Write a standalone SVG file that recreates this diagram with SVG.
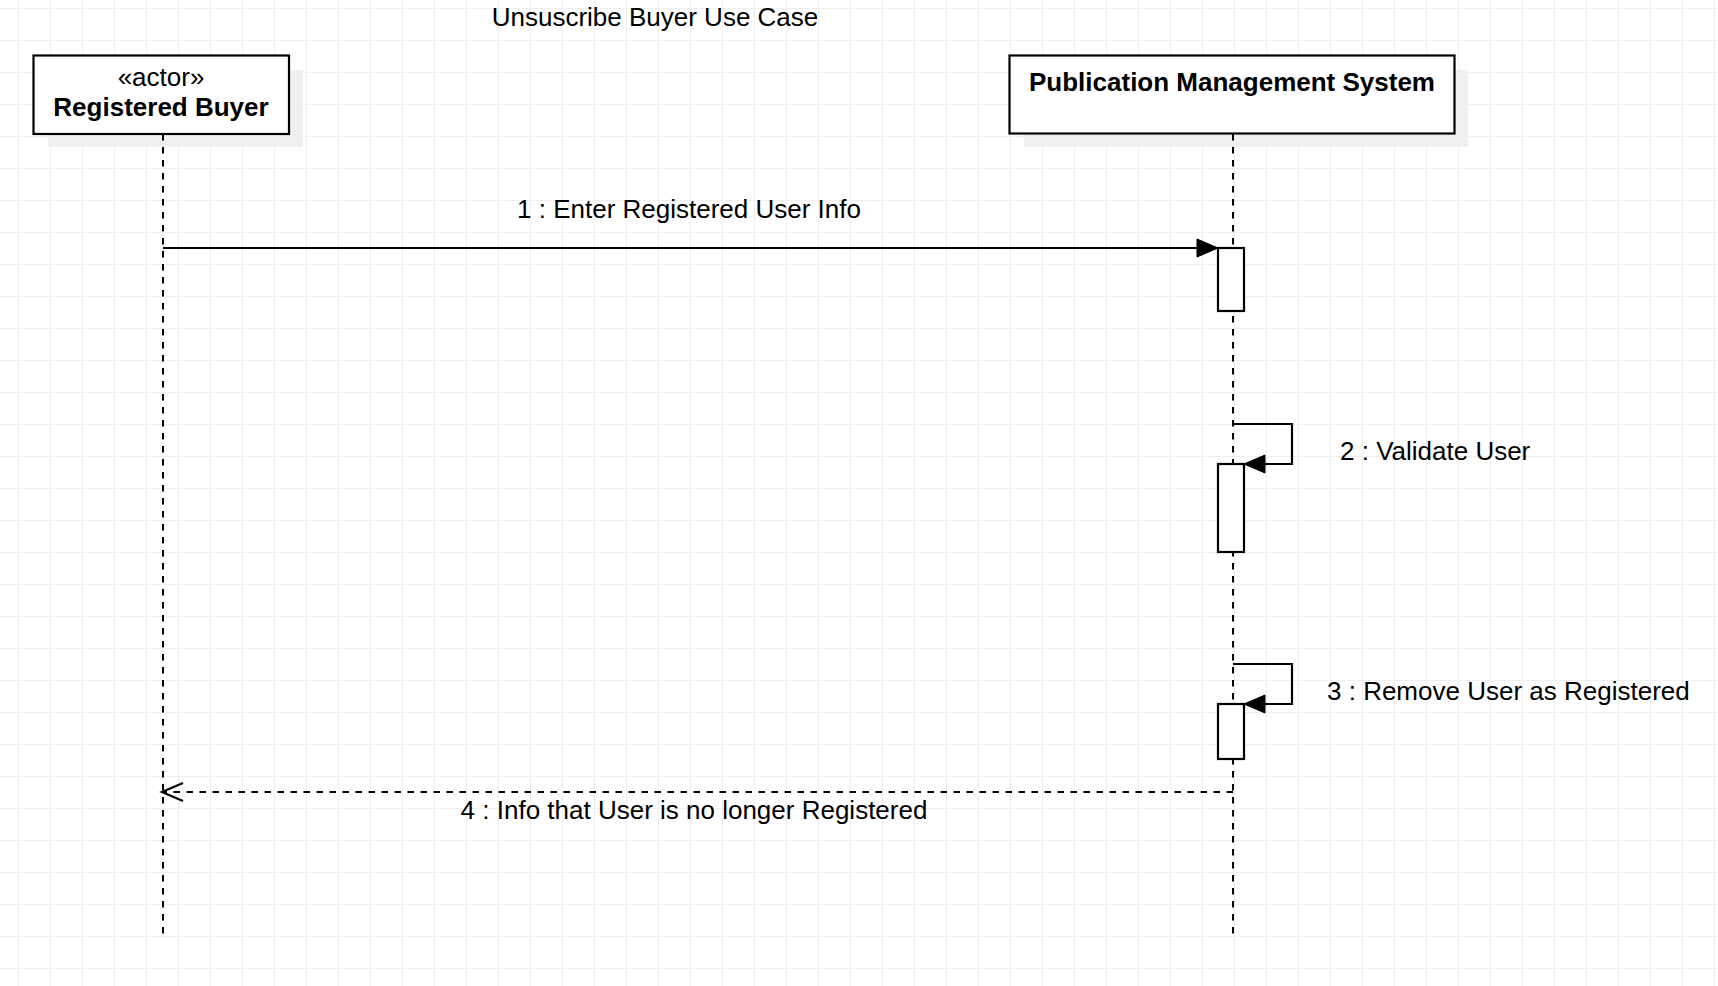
<svg xmlns="http://www.w3.org/2000/svg" width="1718" height="986" viewBox="0 0 1718 986">
<style>
.box{fill:#ffffff;stroke:#000000;stroke-width:2.2}
.shadow{fill:#f0f0f0}
.life{stroke:#000000;stroke-width:2;stroke-dasharray:6.5 6.5;fill:none}
.msg{stroke:#000000;stroke-width:2.2;fill:none}
.ret{stroke:#000000;stroke-width:2.2;fill:none;stroke-dasharray:6.5 6.5}
.act{fill:#ffffff;stroke:#000000;stroke-width:2.2}
.t{font-family:"Liberation Sans",Arial,sans-serif;font-size:26px;fill:#000000}
.b{font-weight:bold}
</style>
<defs>
<pattern id="grid" x="18" y="8" width="32" height="32" patternUnits="userSpaceOnUse">
<path d="M0.5,0 V32 M0,0.5 H32" stroke="#efefef" stroke-width="1" fill="none"/>
</pattern>
<marker id="block" markerUnits="userSpaceOnUse" markerWidth="22" markerHeight="20" refX="21" refY="9" orient="auto" overflow="visible">
<path d="M0,0 L21,9 L0,18 Z" fill="#000000" stroke="#000000" stroke-width="1"/>
</marker>
<marker id="open" markerUnits="userSpaceOnUse" markerWidth="22" markerHeight="20" refX="21" refY="9" orient="auto" overflow="visible">
<path d="M0,0 L21,9 L0,18" fill="none" stroke="#000000" stroke-width="2.2"/>
</marker>
</defs>
<rect width="1718" height="986" fill="#ffffff"/>
<rect width="1718" height="986" fill="url(#grid)"/>
<text class="t" x="655" y="26" text-anchor="middle">Unsuscribe Buyer Use Case</text>
<g id="buyer">
<rect class="shadow" x="48" y="70" width="255" height="77"/>
<rect class="box" x="33.5" y="55.5" width="255.5" height="78.5"/>
<text class="t" x="161" y="86" text-anchor="middle">«actor»</text>
<text class="t b" x="161" y="116" text-anchor="middle">Registered Buyer</text>
<line class="life" x1="163" y1="134" x2="163" y2="934"/>
</g>
<g id="pms">
<rect class="shadow" x="1024" y="70" width="444" height="77"/>
<rect class="box" x="1009.5" y="55.5" width="445" height="78"/>
<text class="t b" x="1232" y="91" text-anchor="middle">Publication Management System</text>
<line class="life" x1="1233" y1="134" x2="1233" y2="934"/>
</g>
<g id="activation1">
<rect class="act" x="1218" y="248" width="26" height="63"/>
</g>
<g id="activation2">
<rect class="act" x="1218" y="464" width="26" height="88"/>
</g>
<g id="activation3">
<rect class="act" x="1218" y="704" width="26" height="55"/>
</g>
<g id="connectors">
<line class="msg" x1="163" y1="248" x2="1218" y2="248" marker-end="url(#block)"/>
<text class="t" x="689" y="218" text-anchor="middle">1 : Enter Registered User Info</text>
<path class="msg" d="M1233,424 H1292 V464 H1244" marker-end="url(#block)"/>
<text class="t" x="1340" y="460">2 : Validate User</text>
<path class="msg" d="M1233,664 H1292 V704 H1244" marker-end="url(#block)"/>
<text class="t" x="1327" y="700">3 : Remove User as Registered</text>
<line class="ret" x1="1233" y1="792" x2="162" y2="792" marker-end="url(#open)"/>
<text class="t" x="694" y="819" text-anchor="middle">4 : Info that User is no longer Registered</text>
</g>
</svg>
